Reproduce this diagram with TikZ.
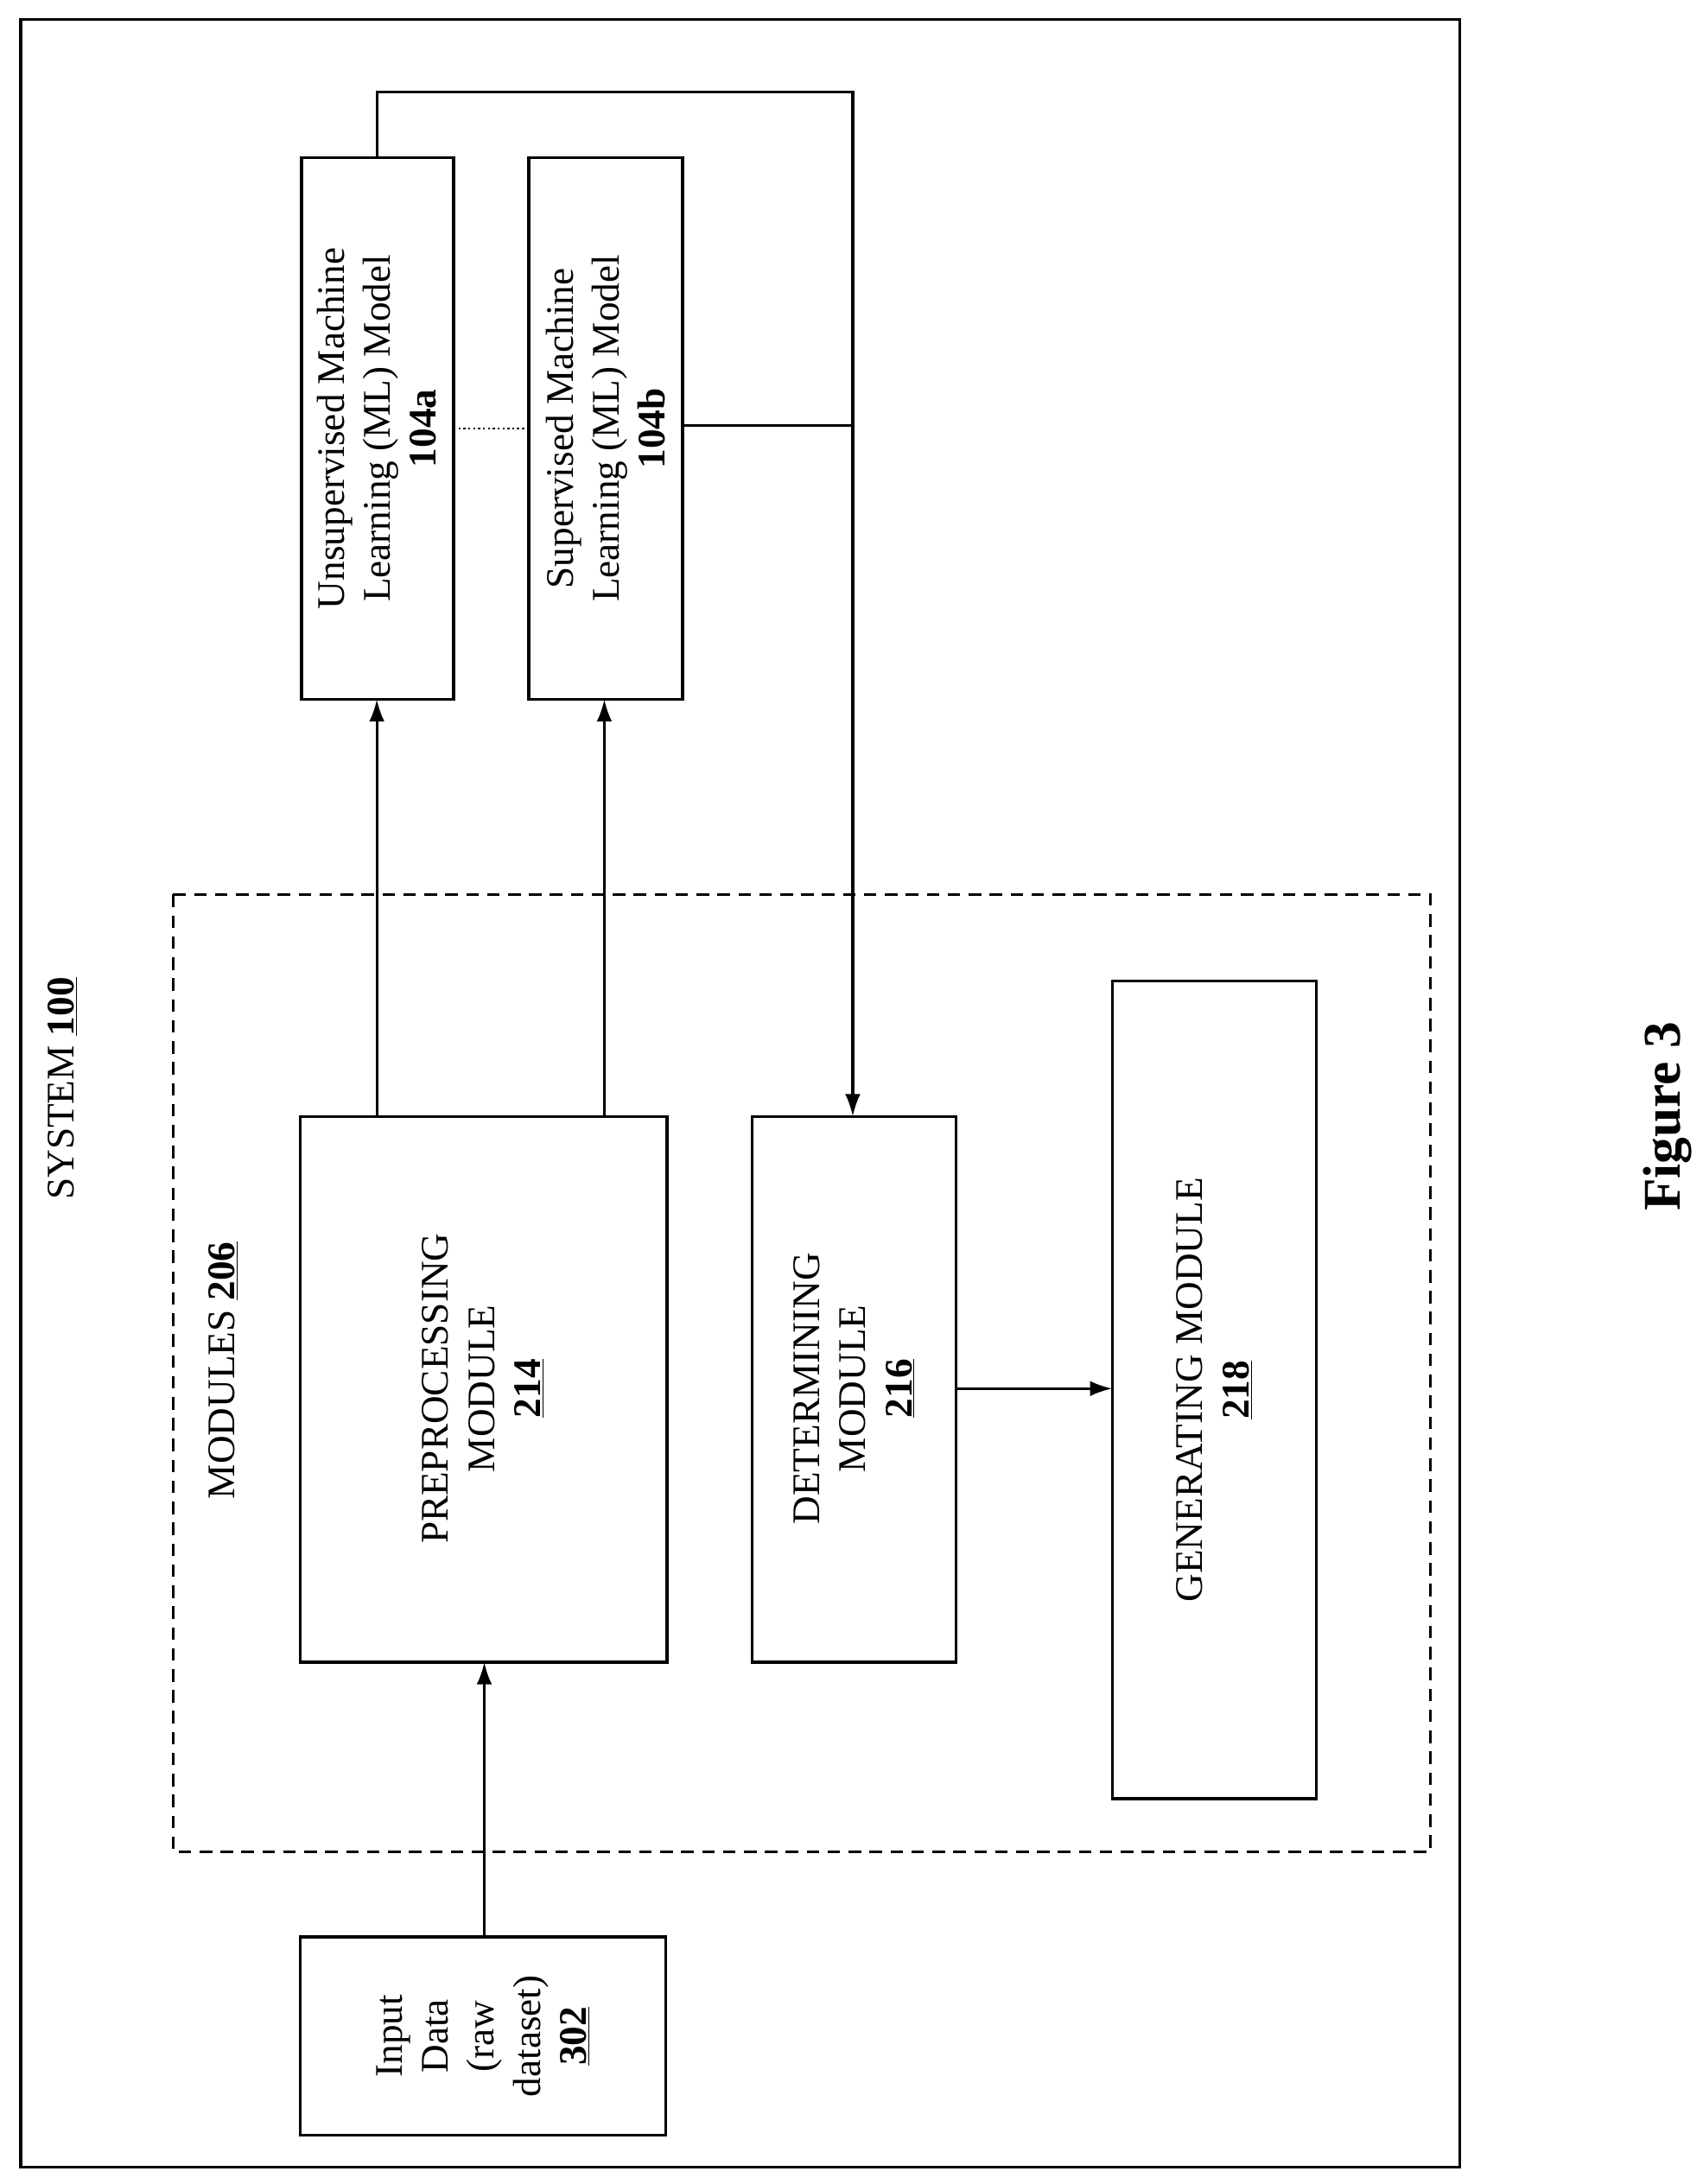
\documentclass[tikz,border=0pt]{standalone}
\usepackage{fontspec}
\setmainfont{Liberation Serif}
\begin{document}
\begin{tikzpicture}[x=1pt,y=-1pt,line width=2pt,
 box/.style={draw,line width=2.2pt},
 lbl/.style={rotate=90,align=center,font=\fontsize{28}{33}\selectfont},
 arr/.style={-{Latex[length=16pt,width=11pt]}}]
\usetikzlibrary{arrows.meta}
\useasboundingbox (0,0) rectangle (1220,1565);
\fill[white] (0,0) rectangle (1220,1565);
\draw[box] (15,14) rectangle (1046,1553);
\node[lbl] (sys) at (45,780) {SYSTEM \textbf{\underline{100}}};
\draw[dashed,line width=2pt,dash pattern=on 9pt off 6pt] (124,641) rectangle (1025,1327);
\node[lbl] (mods) at (160,982) {MODULES \textbf{\underline{206}}};
\draw[box] (215,800) rectangle (478,1191); \coordinate (pre) at (346,995);
\node[lbl] (pret) at (346,995) {PREPROCESSING\\MODULE\\\textbf{\underline{214}}};
\draw[box] (539,800) rectangle (685,1191);
\node[lbl] (dett) at (612,995) {DETERMINING\\MODULE\\\textbf{\underline{216}}};
\draw[box] (797,703) rectangle (943,1289);
\node[lbl] (gent) at (870,996) {GENERATING MODULE\\\textbf{\underline{218}}};
\draw[box] (216,113) rectangle (325,501);
\node[lbl] (unt) at (270,307) {Unsupervised Machine\\Learning (ML) Model\\\textbf{104a}};
\draw[box] (379,113) rectangle (489,501);
\node[lbl] (supt) at (434,307) {Supervised Machine\\Learning (ML) Model\\\textbf{104b}};
\draw[box] (215,1388) rectangle (477,1530);
\node[lbl] (int) at (346,1459) {Input\\Data\\(raw\\dataset)\\\textbf{\underline{302}}};
\coordinate (a1) at (347,1388); \coordinate (a2) at (347,1191);
\draw[arr] (a1) -- (a2);
\coordinate (b1) at (270,800); \coordinate (b2) at (270,501);
\draw[arr] (b1) -- (b2);
\coordinate (c1) at (433,800); \coordinate (c2) at (433,501);
\draw[arr] (c1) -- (c2);
\coordinate (u1) at (270,113); \coordinate (u2) at (270,66); \coordinate (u3) at (611,66); \coordinate (u4) at (611,800);
\draw[arr] (u1) -- (u2) -- (u3) -- (u4);
\coordinate (s1) at (489,305); \coordinate (s2) at (611,305);
\draw (s1) -- (s2);
\coordinate (d1) at (325,307); \coordinate (d2) at (379,307);
\draw[dotted,line width=1.5pt] (d1) -- (d2);
\coordinate (e1) at (685,995); \coordinate (e2) at (797,995);
\draw[arr] (e1) -- (e2);
\node[rotate=90,font=\fontsize{38}{44}\selectfont\bfseries] (fig) at (1195,800) {Figure 3};
\end{tikzpicture}
\end{document}
